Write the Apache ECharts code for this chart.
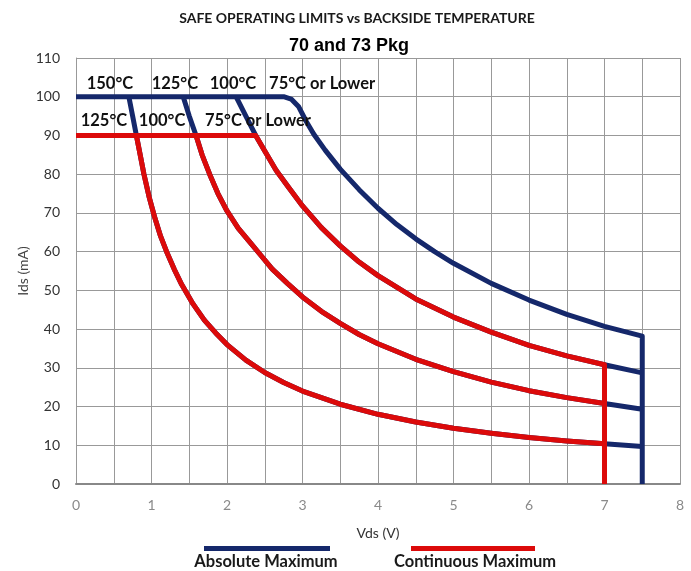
<!DOCTYPE html>
<html>
<head>
<meta charset="utf-8">
<script src="https://cdn.jsdelivr.net/npm/echarts@6/dist/echarts.min.js"></script>
<style>
html,body{margin:0;padding:0;background:#fff;}
#chart{width:691px;height:571px;}
</style>
</head>
<body>
<div id="chart"></div>
<script>
// ---- Data (Vds in V, Ids in mA) ----
const yTicks = [0, 10, 20, 30, 40, 50, 60, 70, 80, 90, 100, 110];
const xTicks = [0, 1, 2, 3, 4, 5, 6, 7, 8];

// Absolute maximum, 75°C or lower
const absolute75 = [[0,100],[2.75,100],[2.85,99.4],[2.95,97.4],[3.05,93.6],[3.15,90.3],[3.3,86.2],[3.5,81.3],[3.75,76],[4.0,71.2],[4.25,67],[4.5,63.3],[4.75,60],[5.0,57],[5.5,51.8],[6.0,47.5],[6.5,43.8],[7.0,40.7],[7.5,38.2],[7.5,0]];
// Continuous maximum, 75°C or lower (shared with absolute 100°C)
const continuous75 = [[0,90],[2.38,90],[2.5,86],[2.65,81],[2.8,77],[3.0,71.8],[3.25,66.2],[3.5,61.5],[3.75,57.3],[4.0,53.8],[4.5,47.8],[5.0,43.1],[5.5,39.2],[6.0,35.8],[6.5,33.1],[7.0,30.8],[7.0,0]];
// Continuous maximum, 100°C (shared with absolute 125°C)
const continuous100 = [[1.59,90],[1.67,85],[1.77,80],[1.88,75],[2.0,70.5],[2.15,66],[2.3,62.5],[2.45,59],[2.6,55.5],[2.8,51.8],[3.0,48.3],[3.25,44.6],[3.5,41.5],[3.75,38.6],[4.0,36.2],[4.5,32.2],[5.0,29],[5.5,26.3],[6.0,24.1],[6.5,22.3],[7.0,20.8]];
// Continuous maximum, 125°C (shared with absolute 150°C)
const continuous125 = [[0.8,90],[0.85,85],[0.9,80],[0.97,74],[1.04,69],[1.12,64],[1.2,60],[1.3,55.5],[1.4,51.5],[1.55,46.5],[1.7,42.3],[1.85,39],[2.0,36],[2.25,32],[2.5,28.8],[2.75,26.2],[3.0,24],[3.5,20.6],[4.0,18],[4.5,16],[5.0,14.4],[5.5,13.1],[6.0,12],[6.5,11.1],[7.0,10.4]];
// Absolute maximum upper starts and tails
const absolute100Start = [[2.12,100],[2.25,95],[2.38,90]];
const absolute100End = [[7.0,30.8],[7.5,28.7]];
const absolute125Start = [[1.42,100],[1.5,95],[1.59,90]];
const absolute125End = [[7.0,20.8],[7.5,19.3]];
const absolute150Start = [[0.7,100],[0.75,95],[0.8,90]];
const absolute150End = [[7.0,10.4],[7.5,9.7]];

// Temperature annotations
const absLabels = ['150°C', '125°C', '100°C', '75°C or Lower'];
const absLabelAnchors = [[0.45,103.5],[1.31,103.5],[2.08,103.5],[3.26,103.5]];
const contLabels = ['125°C', '100°C', '75°C or Lower'];
const contLabelAnchors = [[0.37,93.7],[1.14,93.7],[2.41,93.7]];

const seriesNames = ['Absolute Maximum', 'Continuous Maximum'];
const BLUE = '#15286b';
const RED = '#dc0a0a';

const absolute100 = absolute100Start.concat(continuous75.slice(2, continuous75.length - 1), absolute100End.slice(1));
const absolute125 = absolute125Start.concat(continuous100.slice(1), absolute125End.slice(1));
const absolute150 = absolute150Start.concat(continuous125.slice(1), absolute150End.slice(1));

function lineSeries(name, data, color, z) {
  return {
    name: name, type: 'line', data: data, showSymbol: false, symbol: 'none',
    lineStyle: { color: color, width: 5, join: 'round' }, itemStyle: { color: color },
    z: z, silent: true, animation: false
  };
}
function labelSeries(texts, anchors) {
  return {
    type: 'scatter', symbolSize: 0, silent: true, animation: false, z: 10,
    itemStyle: { opacity: 1 },
    data: anchors.map((a, i) => ({ value: a, name: texts[i] })),
    label: {
      show: true, position: 'inside', formatter: p => p.name, opacity: 1,
      textBorderWidth: 0, textShadowBlur: 0,
      fontFamily: 'Lato', fontWeight: 'bold', fontSize: 16.5, color: '#111'
    }
  };
}

const chart = echarts.init(document.getElementById('chart'), null, { renderer: 'canvas' });
chart.setOption({
  backgroundColor: '#fff',
  animation: false,
  title: [
    { text: 'SAFE OPERATING LIMITS vs BACKSIDE TEMPERATURE', left: 352, top: 6, textAlign: 'center',
      textStyle: { fontFamily: 'Lato', fontWeight: 'bold', fontSize: 14, color: '#1a1a1a' } },
    { text: '70 and 73 Pkg', left: 344, top: 32, textAlign: 'center',
      textStyle: { fontFamily: 'Liberation Sans', fontWeight: 'bold', fontSize: 18, color: '#000' } }
  ],
  grid: { left: 76, right: 11, top: 58, bottom: 87 },
  legend: [
    { data: [seriesNames[0]], left: 204, top: 546, icon: 'rect', itemWidth: 126, itemHeight: 5,
      formatter: () => '', selectedMode: false, padding: 0, itemGap: 0 },
    { data: [seriesNames[1]], left: 411, top: 546, icon: 'rect', itemWidth: 124, itemHeight: 5,
      formatter: () => '', selectedMode: false, padding: 0, itemGap: 0 }
  ],
  graphic: [
    { type: 'text', x: 266, y: 562, style: { text: seriesNames[0], align: 'center', verticalAlign: 'middle', fontFamily: 'Lato', fontWeight: 'bold', fontSize: 16.5, fill: '#1a1a1a' } },
    { type: 'text', x: 475, y: 562, style: { text: seriesNames[1], align: 'center', verticalAlign: 'middle', fontFamily: 'Lato', fontWeight: 'bold', fontSize: 16.5, fill: '#1a1a1a' } }
  ],
  xAxis: {
    type: 'value', min: xTicks[0], max: xTicks[xTicks.length - 1], interval: 1,
    name: 'Vds (V)', nameLocation: 'middle', nameGap: 42,
    nameTextStyle: { fontFamily: 'Lato', fontSize: 14, color: '#333' },
    axisLine: { show: true, onZero: false, lineStyle: { color: '#888', width: 2 } },
    axisTick: { show: false },
    minorTick: { show: false, splitNumber: 2 },
    minorSplitLine: { show: true, lineStyle: { color: '#999', width: 1 } },
    splitLine: { show: true, lineStyle: { color: '#999', width: 1 } },
    axisLabel: { color: '#8a8a8a', fontFamily: 'Lato', fontSize: 14, margin: 14 }
  },
  yAxis: {
    type: 'value', min: yTicks[0], max: yTicks[yTicks.length - 1], interval: 10,
    name: 'Ids (mA)', nameLocation: 'middle', nameGap: 46, nameRotate: 90, nameMoveOverlap: false,
    nameTextStyle: { fontFamily: 'Lato', fontSize: 14, color: '#444' },
    axisLine: { show: true, lineStyle: { color: '#999', width: 1 } },
    axisTick: { show: false },
    splitLine: { show: true, lineStyle: { color: '#999', width: 1 } },
    axisLabel: { color: '#333', fontFamily: 'Lato', fontSize: 14, margin: 16 }
  },
  series: [
    lineSeries(seriesNames[0], absolute150, BLUE, 2),
    lineSeries(seriesNames[0], absolute125, BLUE, 2),
    lineSeries(seriesNames[0], absolute100, BLUE, 2),
    lineSeries(seriesNames[0], absolute75, BLUE, 2),
    lineSeries(seriesNames[1], continuous125, RED, 3),
    lineSeries(seriesNames[1], continuous100, RED, 3),
    lineSeries(seriesNames[1], continuous75, RED, 3),
    labelSeries(absLabels, absLabelAnchors),
    labelSeries(contLabels, contLabelAnchors)
  ]
});
</script>
</body>
</html>
